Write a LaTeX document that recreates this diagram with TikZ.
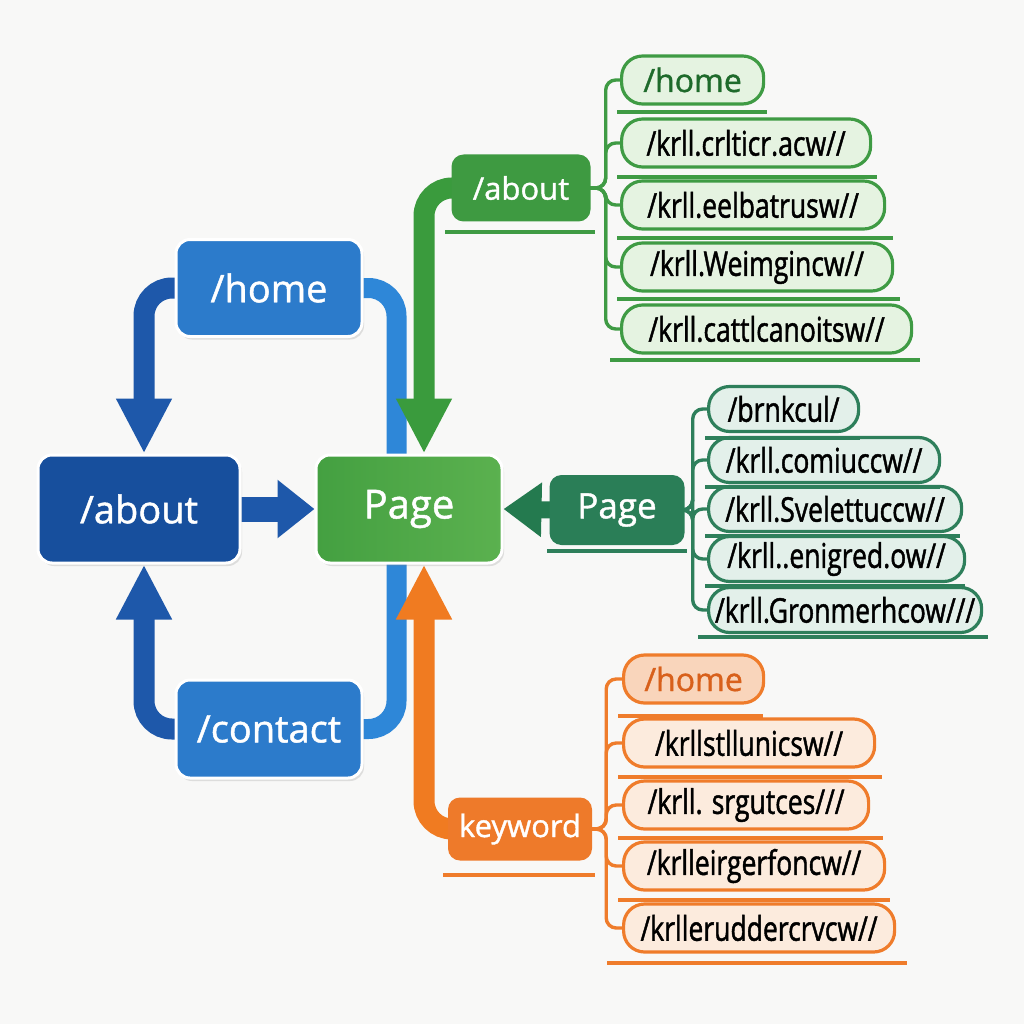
\documentclass[tikz,border=0pt]{standalone}
\usepackage{fontspec}
\setmainfont{Open Sans}
\newfontfamily\listfont[FakeStretch=0.78,FakeBold=1.3]{Open Sans}
\newfontfamily\labfont[FakeBold=1.2]{Open Sans}
\usetikzlibrary{arrows.meta,shadows,backgrounds}
\definecolor{bgc}{HTML}{F8F8F7}
\definecolor{bmid}{HTML}{2C7BCB}
\definecolor{bdark}{HTML}{174F9D}
\definecolor{bluelc}{HTML}{1E58AA}
\definecolor{bluerc}{HTML}{2E87D8}
\definecolor{pgreenL}{HTML}{44A041}
\definecolor{pgreenR}{HTML}{5BB14F}
\definecolor{gdark}{HTML}{3E9A41}
\definecolor{glinec}{HTML}{3F9B44}
\definecolor{gfill}{HTML}{E5F3E1}
\definecolor{gtext}{HTML}{1E6A2B}
\definecolor{tdark}{HTML}{2A7E57}
\definecolor{tlinec}{HTML}{2E7F5B}
\definecolor{tfill}{HTML}{E3F0EA}
\definecolor{odark}{HTML}{EE7A2A}
\definecolor{olinec}{HTML}{EF7C2B}
\definecolor{ofill}{HTML}{FCEBDD}
\definecolor{ohfill}{HTML}{F9D5BB}
\definecolor{otext}{HTML}{D8601B}
\definecolor{orangelc}{HTML}{F07B21}
\definecolor{greenlc}{HTML}{3A9B3D}
\definecolor{teallc}{HTML}{247A4F}
\pgfdeclarelayer{bottom}
\pgfsetlayers{bottom,background,main}
\tikzset{
  mainnode/.style={rounded corners=14, draw=white, line width=3, text=white, inner sep=0,
    font=\labfont\fontsize{38}{40}\selectfont,
    drop shadow={opacity=0.22, shadow xshift=2pt, shadow yshift=-3pt}},
  subnode/.style={rounded corners=12, text=white, inner sep=0, font=\labfont\fontsize{31}{33}\selectfont},
  itembox/.style={anchor=west, rounded corners=21, line width=3.2, minimum height=48, inner sep=0,
    text=black, font=\listfont\fontsize{34}{36}\selectfont},
  gitem/.style={itembox, draw=glinec, fill=gfill},
  titem/.style={itembox, draw=tlinec, fill=tfill, minimum height=45},
  oitem/.style={itembox, draw=olinec, fill=ofill},
  homeitem/.style={font=\labfont\fontsize{32}{34}\selectfont},
  thickarr/.style={line width=21, rounded corners=28, -{Triangle[width=52pt,length=55pt]}},
  conn/.style={line width=3.4, rounded corners=10},
  ul/.style={line width=3.6},
}
\begin{document}
\begin{tikzpicture}[x=1pt,y=-1pt]
\begin{pgfonlayer}{bottom}
\fill[bgc] (0,0) rectangle (1024,1024);
\end{pgfonlayer}
\useasboundingbox (0,0) rectangle (1024,1024);

% main nodes
\node[mainnode, fill=bmid, minimum width=186, minimum height=97] (home) at (269,288) {/home};
\node[mainnode, fill=bdark, minimum width=202, minimum height=108] (about) at (139,509) {/about};
\node[mainnode, left color=pgreenL, right color=pgreenR, minimum width=186, minimum height=108, font=\labfont\fontsize{40}{42}\selectfont] (page) at (409,509) {Page};
\node[mainnode, fill=bmid, minimum width=186, minimum height=98] (contact) at (269,729) {/contact};

% sub nodes
\node[subnode, fill=gdark, minimum width=139, minimum height=67] (gab) at (521,188) {/about};
\node[subnode, fill=tdark, minimum width=135, minimum height=70, font=\labfont\fontsize{35}{37}\selectfont] (tpage) at (617,510) {Page};
\node[subnode, fill=odark, minimum width=144, minimum height=63] (kw) at (520,829) {keyword};

% green list
\node[gitem, minimum width=142, homeitem, text=gtext] (g1) at (620,80) {/home};
\node[gitem, minimum width=249] (g2) at (620,143) {/krll.crlticr.acw//};
\node[gitem, minimum width=263] (g3) at (620,205) {/krll.eelbatrusw//};
\node[gitem, minimum width=271] (g4) at (620,267) {/krll.Weimgincw//};
\node[gitem, minimum width=290] (g5) at (620,329) {/krll.cattlcanoitsw//};

% teal list
\node[titem, minimum width=150] (t1) at (707,409) {/brnkcul/};
\node[titem, minimum width=231] (t2) at (707,460) {/krll.comiuccw//};
\node[titem, minimum width=253] (t3) at (707,509) {/krll.Svelettuccw//};
\node[titem, minimum width=256] (t4) at (707,559) {/krll..enigred.ow//};
\node[titem, minimum width=273] (t5) at (707,610) {/krll.Gronmerhcow///};

% orange list
\node[oitem, minimum width=140, homeitem, fill=ohfill, text=otext] (o1) at (622,679) {/home};
\node[oitem, minimum width=251] (o2) at (622,743) {/krllstllunicsw//};
\node[oitem, minimum width=245] (o3) at (622,805) {/krll. srgutces///};
\node[oitem, minimum width=261] (o4) at (622,866) {/krlleirgerfoncw//};
\node[oitem, minimum width=271] (o5) at (622,928) {/krlleruddercrvcw//};

% underlines
\draw[ul, glinec] (445,232) -- (595,232);
\draw[ul, glinec] (617,112) -- (767,112);
\draw[ul, glinec] (617,177) -- (877,177);
\draw[ul, glinec] (617,238) -- (893,238);
\draw[ul, glinec] (617,299) -- (900,299);
\draw[ul, glinec] (610,360) -- (920,360);
\draw[ul, tlinec] (547,551) -- (687,551);
\draw[ul, tlinec] (705,438) -- (860,438);
\draw[ul, tlinec] (705,487) -- (940,487);
\draw[ul, tlinec] (705,536) -- (960,536);
\draw[ul, tlinec] (705,586) -- (965,586);
\draw[ul, tlinec] (698,637) -- (988,637);
\draw[ul, olinec] (443,875) -- (595,875);
\draw[ul, olinec] (618,716) -- (763,716);
\draw[ul, olinec] (618,777) -- (882,777);
\draw[ul, olinec] (618,838) -- (883,838);
\draw[ul, olinec] (618,900) -- (890,900);
\draw[ul, olinec] (607,963) -- (907,963);

\begin{pgfonlayer}{background}
% blue loop
\draw[line width=20, rounded corners=28, bluerc] ([xshift=-5]home.east) -- ++(38,0) |- ([xshift=-5]contact.east);
\draw[thickarr, bluelc] ([xshift=5]home.west) -| ([xshift=5]about.north);
\draw[thickarr, bluelc] ([xshift=5]contact.west) -| ([xshift=5]about.south);
\draw[bluelc, line width=25, -{Triangle[width=56pt,length=37pt]}] ([xshift=-3]about.east) -- (page.west);
% green, orange, teal arrows
\draw[thickarr, greenlc] ([xshift=5]gab.west) -| ([xshift=15]page.north);
\draw[thickarr, orangelc] ([xshift=5]kw.west) -| ([xshift=15]page.south);
\draw[teallc, line width=17, -{Triangle[width=52pt,length=38pt]}] ([xshift=3]tpage.west) -- (page.east);
% list connectors
\foreach \n in {g1,g2,g3,g4,g5} \draw[conn, glinec] ([xshift=-3]gab.east) -- ++(18,0) |- (\n.west);
\foreach \n in {t1,t2,t3,t4,t5} \draw[conn, tlinec] ([xshift=-3]tpage.east) -- ++(11,0) |- (\n.west);
\foreach \n in {o1,o2,o3,o4,o5} \draw[conn, olinec] ([xshift=-3]kw.east) -- ++(17,0) |- (\n.west);
\end{pgfonlayer}
\end{tikzpicture}
\end{document}
